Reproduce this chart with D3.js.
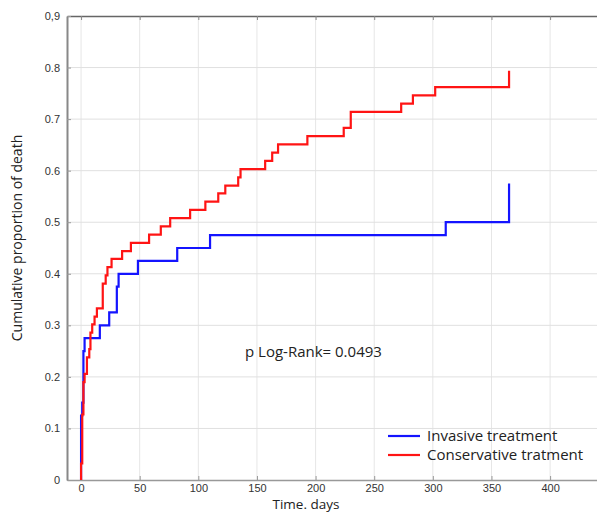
<!DOCTYPE html>
<html>
<head>
<meta charset="utf-8">
<script src="https://cdn.jsdelivr.net/npm/d3@7"></script>
<style>
  body { margin: 0; background: #fff; }
  svg { display: block; font-family: "Open Sans", "DejaVu Sans", sans-serif; }
</style>
</head>
<body>
<svg id="chart" width="597" height="512"></svg>
<script>
// ============================================================
// DATA
// ============================================================
const xTicks = [0, 50, 100, 150, 200, 250, 300, 350, 400];
const yTicks = [0, 0.1, 0.2, 0.3, 0.4, 0.5, 0.6, 0.7, 0.8, 0.9];
const yTickLabels = ['0', '0.1', '0.2', '0.3', '0.4', '0.5', '0.6', '0.7', '0.8', '0,9'];

const invasiveTimes = [0, 1, 2, 3, 16, 24, 30.5, 32, 48.5, 82, 110, 311, 365];
const invasiveValues = [0.125, 0.15, 0.25, 0.275, 0.3, 0.325, 0.375, 0.4, 0.425, 0.45, 0.475, 0.5, 0.575];

const conservTimes = [0, 1, 2, 3, 5, 7, 8, 9.5, 11.5, 13.5, 18.5, 21, 22.5, 26, 35, 42.5, 58, 68, 76,
  93, 106, 117, 123, 134, 136, 157, 163, 168, 193, 224, 230, 273, 283, 302, 365];
const conservValues = [0.032, 0.127, 0.190, 0.206, 0.238, 0.254, 0.286, 0.302, 0.317, 0.333, 0.381,
  0.397, 0.413, 0.429, 0.444, 0.460, 0.476, 0.492, 0.508, 0.524, 0.540, 0.556, 0.571, 0.587, 0.603,
  0.619, 0.635, 0.651, 0.667, 0.683, 0.714, 0.730, 0.746, 0.762, 0.794];

const seriesNames = ['Invasive treatment', 'Conservative tratment'];
const seriesColors = ['#1414ff', '#ff1414'];

// ============================================================
// SCALES
// ============================================================
const svg = d3.select('#chart');
const x = d3.scaleLinear().domain([-12, 440]).range([67, 597]);
const y = d3.scaleLinear().domain([0, 0.9]).range([480, 16]);

// grid
svg.append('g').selectAll('line').data(xTicks).join('line')
  .attr('x1', d => x(d)).attr('x2', d => x(d))
  .attr('y1', y(0)).attr('y2', y(0.9))
  .attr('stroke', '#e6e6e6').attr('stroke-width', 1);
svg.append('g').selectAll('line').data(yTicks.slice(1, -1)).join('line')
  .attr('x1', x.range()[0]).attr('x2', x.range()[1])
  .attr('y1', d => y(d)).attr('y2', d => y(d))
  .attr('stroke', '#e0e0e0').attr('stroke-width', 1);

// ============================================================
// AXES
// ============================================================
const xAxis = svg.append('g').attr('transform', `translate(0,${y(0)})`)
  .call(d3.axisBottom(x).tickValues(xTicks).tickSizeInner(-4).tickSizeOuter(0).tickPadding(4));
xAxis.select('.domain').attr('stroke', '#999').attr('stroke-width', 1.5);
xAxis.selectAll('.tick line').attr('stroke', '#999');
xAxis.selectAll('text').attr('font-size', 11).attr('fill', '#333');

const xTop = svg.append('g').attr('transform', `translate(0,${y(0.9)})`)
  .call(d3.axisTop(x).tickValues(xTicks).tickSizeInner(-4).tickSizeOuter(0).tickFormat(''));
xTop.select('.domain').attr('stroke', '#666').attr('stroke-width', 1.5);
xTop.selectAll('.tick line').attr('stroke', '#888');

const yAxis = svg.append('g').attr('transform', `translate(${x.range()[0]},0)`)
  .call(d3.axisLeft(y).tickValues(yTicks).tickSizeInner(-4).tickSizeOuter(0).tickPadding(7)
    .tickFormat((d, i) => yTickLabels[i]));
yAxis.select('.domain').attr('stroke', '#888').attr('stroke-width', 2);
yAxis.selectAll('.tick line').attr('stroke', '#999');
yAxis.selectAll('text').attr('font-size', 11).attr('fill', '#333');

// axis titles
svg.append('text')
  .attr('transform', 'translate(22,238) rotate(-90)')
  .attr('text-anchor', 'middle').attr('font-size', 14).attr('fill', '#222')
  .text('Cumulative proportion of death');
svg.append('text')
  .attr('x', 306).attr('y', 509)
  .attr('text-anchor', 'middle').attr('font-size', 13.5).attr('fill', '#222')
  .text('Time. days');

// ============================================================
// STEP CURVES
// ============================================================
const line = d3.line().x(d => x(d[0])).y(d => y(d[1])).curve(d3.curveStepAfter);
const series = [
  [[0, 0]].concat(invasiveTimes.map((t, i) => [t, invasiveValues[i]])),
  [[0, 0]].concat(conservTimes.map((t, i) => [t, conservValues[i]]))
];
series.forEach((pts, i) => {
  svg.append('path').datum(pts)
    .attr('d', line)
    .attr('fill', 'none')
    .attr('stroke', seriesColors[i])
    .attr('stroke-width', 2.2);
});

// annotation
svg.append('text')
  .attr('x', 245).attr('y', 357).attr('font-size', 15).attr('fill', '#222')
  .text('p Log-Rank= 0.0493');

// legend
const legend = svg.append('g');
seriesNames.forEach((name, i) => {
  const ly = 436 + i * 19;
  legend.append('line')
    .attr('x1', 388).attr('x2', 420).attr('y1', ly).attr('y2', ly)
    .attr('stroke', seriesColors[i]).attr('stroke-width', 2.2);
  legend.append('text')
    .attr('x', 427).attr('y', ly + 5).attr('font-size', 15).attr('fill', '#222')
    .text(name);
});
</script>
</body>
</html>
